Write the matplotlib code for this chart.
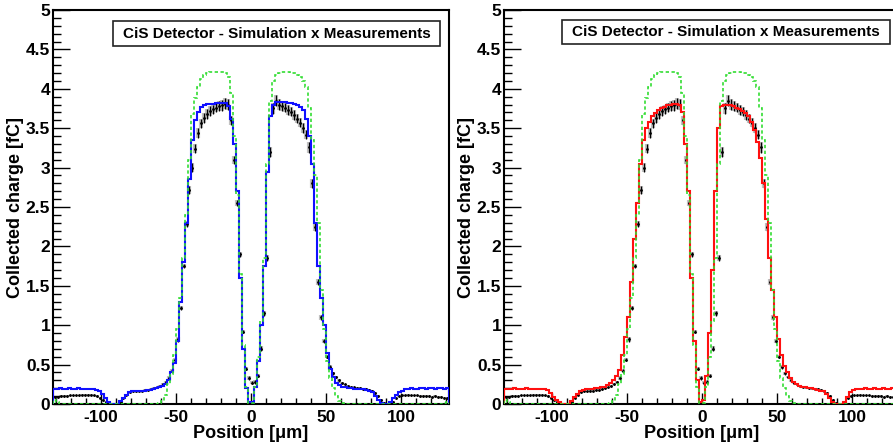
import numpy as np
import matplotlib
matplotlib.use('Agg')
import matplotlib.pyplot as plt
from matplotlib.ticker import MultipleLocator, FuncFormatter
from matplotlib.patches import Rectangle

plt.rcParams['font.family'] = ['Liberation Sans', 'DejaVu Sans']
plt.rcParams['font.weight'] = 'bold'

# ---- data: bins of 2 um from -132 to 132 (centres -131 ... 131) ----
bin_edges = np.arange(-132, 133, 2)
bin_centres = 0.5 * (bin_edges[:-1] + bin_edges[1:])

meas_neg = [0.09, 0.09, 0.10, 0.10, 0.10, 0.11, 0.11, 0.11, 0.11, 0.12,
            0.12, 0.12, 0.12, 0.11, 0.10, 0.08, 0.05, 0.03, 0.01, 0.00,
            0.00, 0.00, 0.03, 0.08, 0.12, 0.15, 0.16, 0.16, 0.17, 0.17,
            0.18, 0.18, 0.19, 0.20, 0.21, 0.23, 0.25, 0.28, 0.33, 0.42,
            0.56, 0.82, 1.22, 1.75, 2.28, 2.72, 3.00, 3.24, 3.44, 3.56,
            3.63, 3.68, 3.72, 3.74, 3.76, 3.78, 3.79, 3.81, 3.80, 3.60,
            3.10, 2.55, 1.90, 0.92, 0.45, 0.33]
meas_pos = [0.27, 0.28, 0.36, 0.70, 1.15, 1.85, 3.20, 3.75, 3.85, 3.80,
            3.78, 3.76, 3.73, 3.71, 3.67, 3.62, 3.57, 3.50, 3.42, 3.26,
            2.80, 2.25, 1.55, 1.10, 0.80, 0.60, 0.47, 0.39, 0.34, 0.30,
            0.27, 0.25, 0.23, 0.22, 0.21, 0.20, 0.20, 0.19, 0.19, 0.18,
            0.17, 0.14, 0.10, 0.05, 0.01, 0.00, 0.00, 0.03, 0.07, 0.10,
            0.11, 0.11, 0.12, 0.11, 0.11, 0.11, 0.10, 0.10, 0.10, 0.10,
            0.09, 0.10, 0.09, 0.09, 0.08, 0.08]
meas_err_neg = [0.01] * 30 + [
            0.01, 0.01, 0.01, 0.01, 0.01, 0.01, 0.015, 0.015, 0.02, 0.02,
            0.02, 0.03, 0.03, 0.03, 0.04, 0.05, 0.06, 0.06, 0.06, 0.06,
            0.06, 0.06, 0.06, 0.06, 0.06, 0.06, 0.07, 0.07, 0.07, 0.06,
            0.05, 0.04, 0.03, 0.02, 0.02, 0.02]
meas_err_pos = [
            0.02, 0.02, 0.02, 0.03, 0.03, 0.04, 0.06, 0.07, 0.07, 0.07,
            0.06, 0.06, 0.06, 0.06, 0.06, 0.06, 0.06, 0.06, 0.06, 0.07,
            0.06, 0.05, 0.04, 0.03, 0.03, 0.02, 0.02, 0.02, 0.015, 0.015] + [0.01] * 36

sim_green_neg = [0.05, 0.02, 0.00, 0.00, 0.00, 0.00, 0.00, 0.00, 0.00, 0.00,
                 0.00, 0.00, 0.00, 0.00, 0.00, 0.00, 0.00, 0.00, 0.00, 0.00,
                 0.00, 0.00, 0.00, 0.00, 0.00, 0.00, 0.00, 0.00, 0.00, 0.00,
                 0.00, 0.00, 0.00, 0.00, 0.00, 0.01, 0.04, 0.12, 0.25, 0.38,
                 0.62, 0.95, 1.35, 1.85, 2.40, 3.10, 3.68, 3.88, 4.02, 4.12,
                 4.17, 4.20, 4.21, 4.21, 4.21, 4.21, 4.21, 4.20, 4.15, 3.95,
                 3.40, 2.65, 1.65, 0.75, 0.22, 0.01]
sim_green_pos = [0.01, 0.22, 0.60, 1.05, 1.85, 3.05, 3.85, 4.10, 4.17, 4.20,
                 4.21, 4.21, 4.21, 4.20, 4.20, 4.18, 4.15, 4.10, 4.02, 3.75,
                 3.35, 2.90, 2.30, 1.45, 0.95, 0.55, 0.33, 0.20, 0.10, 0.04,
                 0.01, 0.00, 0.00, 0.00, 0.00, 0.00, 0.00, 0.00, 0.00, 0.00,
                 0.00, 0.00, 0.00, 0.00, 0.00, 0.00, 0.00, 0.00, 0.00, 0.00,
                 0.00, 0.00, 0.00, 0.00, 0.00, 0.00, 0.00, 0.00, 0.00, 0.00,
                 0.00, 0.00, 0.00, 0.00, 0.01, 0.03]

sim_blue_neg = [0.19, 0.19, 0.20, 0.19, 0.19, 0.20, 0.19, 0.19, 0.20, 0.19,
                0.19, 0.19, 0.19, 0.19, 0.18, 0.16, 0.13, 0.08, 0.03, 0.00,
                0.00, 0.00, 0.04, 0.08, 0.12, 0.15, 0.16, 0.17, 0.17, 0.17,
                0.17, 0.18, 0.18, 0.19, 0.20, 0.21, 0.23, 0.26, 0.31, 0.40,
                0.52, 0.80, 1.30, 1.80, 2.30, 2.85, 3.35, 3.60, 3.71, 3.77,
                3.80, 3.81, 3.81, 3.81, 3.82, 3.82, 3.82, 3.82, 3.78, 3.62,
                3.30, 2.70, 1.60, 0.70, 0.20, 0.02]
sim_blue_pos = [0.03, 0.22, 0.55, 1.00, 1.75, 2.95, 3.65, 3.80, 3.83, 3.83,
                3.83, 3.83, 3.82, 3.82, 3.81, 3.80, 3.77, 3.73, 3.62, 3.40,
                3.05, 2.30, 1.75, 1.35, 1.00, 0.65, 0.45, 0.34, 0.27, 0.24,
                0.22, 0.21, 0.20, 0.20, 0.19, 0.19, 0.19, 0.19, 0.18, 0.17,
                0.15, 0.10, 0.05, 0.01, 0.00, 0.00, 0.02, 0.08, 0.12, 0.15,
                0.17, 0.19, 0.19, 0.20, 0.19, 0.19, 0.20, 0.20, 0.19, 0.20,
                0.20, 0.19, 0.20, 0.20, 0.19, 0.20]

sim_red_neg = [0.19, 0.19, 0.19, 0.20, 0.19, 0.19, 0.19, 0.20, 0.19, 0.19,
               0.19, 0.19, 0.19, 0.19, 0.18, 0.14, 0.09, 0.05, 0.02, 0.00,
               0.00, 0.00, 0.04, 0.09, 0.13, 0.16, 0.18, 0.19, 0.19, 0.19,
               0.20, 0.20, 0.21, 0.22, 0.24, 0.27, 0.31, 0.36, 0.43, 0.62,
               0.85, 1.10, 1.55, 2.10, 2.55, 3.05, 3.35, 3.50, 3.58, 3.65,
               3.69, 3.73, 3.75, 3.77, 3.79, 3.80, 3.81, 3.81, 3.80, 3.70,
               3.30, 2.70, 1.60, 0.80, 0.30, 0.03]
sim_red_pos = [0.05, 0.35, 0.90, 1.70, 2.70, 3.50, 3.78, 3.80, 3.80, 3.79,
               3.78, 3.76, 3.74, 3.72, 3.69, 3.65, 3.58, 3.48, 3.33, 3.12,
               2.80, 2.35, 1.85, 1.45, 1.10, 0.82, 0.62, 0.48, 0.40, 0.33,
               0.28, 0.25, 0.23, 0.22, 0.21, 0.20, 0.20, 0.19, 0.18, 0.17,
               0.16, 0.13, 0.08, 0.02, 0.00, 0.00, 0.00, 0.03, 0.09, 0.15,
               0.18, 0.19, 0.19, 0.19, 0.20, 0.19, 0.19, 0.20, 0.19, 0.19,
               0.20, 0.19, 0.19, 0.20, 0.19, 0.19]

title_text = "CiS Detector - Simulation x Measurements"
x_label = "Position [\u03bcm]"
y_label = "Collected charge [fC]"

meas = np.array(meas_neg + meas_pos)
meas_err = np.array(meas_err_neg + meas_err_pos)
green = np.array(sim_green_neg + sim_green_pos)
blue = np.array(sim_blue_neg + sim_blue_pos)
red = np.array(sim_red_neg + sim_red_pos)

fig = plt.figure(figsize=(8.93, 4.48), dpi=100)
W, H = 893.0, 448.0
axL = fig.add_axes([53 / W, 44 / H, 396 / W, 394 / H])
axR = fig.add_axes([504 / W, 44 / H, 396 / W, 394 / H])


def style(ax, box):
    ax.set_xlim(-132, 132)
    ax.set_ylim(0, 5)
    ax.xaxis.set_major_locator(MultipleLocator(50))
    ax.xaxis.set_minor_locator(MultipleLocator(10))
    ax.yaxis.set_major_locator(MultipleLocator(0.5))
    ax.yaxis.set_minor_locator(MultipleLocator(0.1))
    ax.yaxis.set_major_formatter(FuncFormatter(lambda v, p: "%g" % v))
    ax.xaxis.set_major_formatter(FuncFormatter(lambda v, p: "%g" % v))
    ax.tick_params(axis='x', which='major', direction='in', length=8, width=1,
                   labelsize=12.5, pad=4)
    ax.tick_params(axis='x', which='minor', direction='in', length=4, width=1)
    ax.tick_params(axis='y', which='major', direction='in', length=12, width=1,
                   labelsize=12.5, pad=2)
    ax.tick_params(axis='y', which='minor', direction='in', length=6, width=1)
    for s in ax.spines.values():
        s.set_linewidth(1.5)
    ax.set_xlabel(x_label, fontsize=13, fontweight='bold')
    ax.set_ylabel(y_label, fontsize=13, fontweight='bold')
    ax.xaxis.set_label_coords(0.5, -0.053)
    ax.yaxis.set_label_coords(-0.072, 0.5)
    x0, y0, x1, y1 = box
    ax.add_patch(Rectangle((x0, y0), x1 - x0, y1 - y0, transform=ax.transAxes,
                           facecolor='white', edgecolor='#222222', lw=1.2, zorder=5))
    ax.text((x0 + x1) / 2, (y0 + y1) / 2, title_text, transform=ax.transAxes,
            ha='center', va='center', fontsize=11, fontweight='bold', zorder=6)


def draw(ax, sim, colour):
    ax.errorbar(bin_centres, meas, yerr=meas_err, fmt='none', ecolor='#999999',
                elinewidth=3, alpha=0.6, zorder=1)
    ax.errorbar(bin_centres, meas, yerr=meas_err, xerr=0.6, fmt='.', ms=2,
                color='black', ecolor='black', elinewidth=0.9, zorder=2)
    ax.stairs(sim, bin_edges, color=colour, lw=1.5, zorder=3)
    ax.stairs(green, bin_edges, color='#33dd33', lw=1.2, linestyle=(0, (2, 1.5)), zorder=4)


draw(axL, blue, '#1010ff')
draw(axR, red, '#ff1010')
style(axL, (0.1515, 0.9086, 0.977, 0.972))
style(axR, (0.1465, 0.9137, 0.975, 0.9746))

fig.savefig('out.png', dpi=100, facecolor='white')
